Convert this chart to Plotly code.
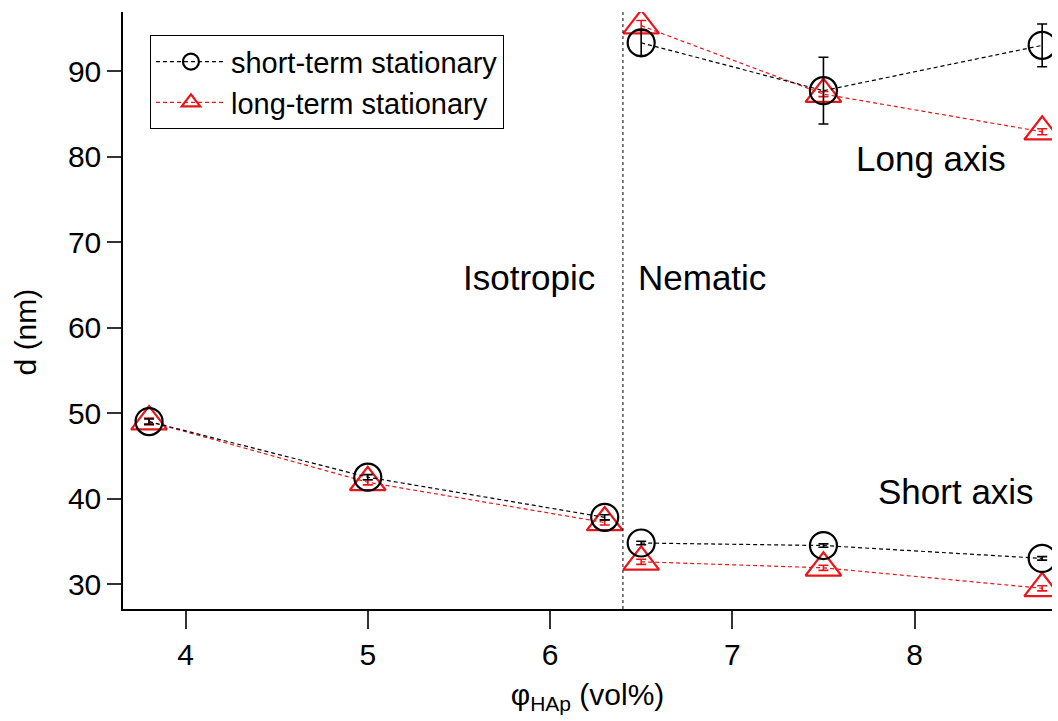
import plotly.graph_objects as go

# Volume fraction of HAp (vol%)
phi_iso = [3.8, 5.0, 6.3]
phi_nem = [6.5, 7.5, 8.7]

# short-term stationary: diameter (nm) and error
st_iso = [49.0, 42.5, 37.8]
st_iso_err = [0.3, 0.3, 0.3]
st_short = [34.8, 34.5, 33.0]
st_short_err = [0.2, 0.2, 0.2]
st_long = [93.3, 87.7, 93.0]
st_long_err = [1.5, 3.9, 2.5]

# long-term stationary: diameter (nm) and error
lt_iso = [49.0, 41.9, 37.2]
lt_iso_err = [0.4, 0.3, 0.3]
lt_short = [32.6, 31.9, 29.5]
lt_short_err = [0.3, 0.3, 0.3]
lt_long = [95.3, 87.3, 82.9]
lt_long_err = [0.6, 0.3, 0.35]

phase_boundary = 6.4

FONT = "Liberation Sans, Arial, sans-serif"
BLACK = "#000000"
RED = "#e8161b"

fig = go.Figure()


def add_series(x, y, err, color, symbol, size, name, show, rank):
    fig.add_trace(go.Scatter(
        x=x, y=y, mode="lines+markers", name=name,
        legendgroup=name, showlegend=show, legendrank=rank,
        line=dict(color=color, width=1.2, dash="4px,3px"),
        marker=dict(symbol=symbol, size=size, color=color,
                    line=dict(color=color, width=2.2)),
        error_y=dict(type="data", array=err, visible=True,
                     color=color, thickness=1.6, width=5),
    ))


# red first so the black circles sit on top
for ys, es, show in [(lt_iso, lt_iso_err, True), (lt_short, lt_short_err, False),
                     (lt_long, lt_long_err, False)]:
    xs = phi_iso if ys is lt_iso else phi_nem
    add_series(xs, ys, es, RED, "triangle-up-open", 31,
               "long-term stationary", show, 2)

for ys, es, show in [(st_iso, st_iso_err, True), (st_short, st_short_err, False),
                     (st_long, st_long_err, False)]:
    xs = phi_iso if ys is st_iso else phi_nem
    add_series(xs, ys, es, BLACK, "circle-open", 27,
               "short-term stationary", show, 1)

# isotropic / nematic boundary
fig.add_shape(type="line", x0=phase_boundary, x1=phase_boundary,
              xref="x", yref="paper", y0=0, y1=1,
              line=dict(color=BLACK, width=1, dash="dot"))

labels = [("Isotropic", 5.884, 65.8), ("Nematic", 6.833, 65.8),
          ("Long axis", 8.09, 79.8), ("Short axis", 8.23, 40.8)]
for text, lx, ly in labels:
    fig.add_annotation(x=lx, y=ly, text=text, showarrow=False,
                       font=dict(family=FONT, size=35, color=BLACK))

# y-axis title, placed close to the page edge
fig.add_annotation(x=-0.1055, y=0.465, xref="paper", yref="paper",
                   text="d (nm)", textangle=-90, showarrow=False,
                   xanchor="center", yanchor="middle",
                   font=dict(family=FONT, size=30, color=BLACK))

fig.update_layout(
    width=1058, height=721,
    margin=dict(l=123, r=6, t=12, b=112),
    paper_bgcolor="white", plot_bgcolor="white",
    font=dict(family=FONT, size=30, color=BLACK),
    showlegend=True,
    legend=dict(x=0.029, y=0.961, xanchor="left", yanchor="top",
                bordercolor=BLACK, borderwidth=1, bgcolor="white",
                font=dict(family=FONT, size=29, color=BLACK),
                itemwidth=70, tracegroupgap=0),
    xaxis=dict(range=[3.657, 8.754], tickvals=[4, 5, 6, 7, 8],
               showgrid=False, zeroline=False,
               showline=True, linecolor=BLACK, linewidth=1.5,
               ticks="outside", ticklen=18, tickwidth=1.5, tickcolor="#333333",
               tickfont=dict(family=FONT, size=30),
               title=dict(text="φ<sub>HAp</sub> (vol%)",
                          font=dict(family=FONT, size=30), standoff=14)),
    yaxis=dict(range=[27.08, 96.9], tickvals=[30, 40, 50, 60, 70, 80, 90],
               showgrid=False, zeroline=False,
               showline=True, linecolor=BLACK, linewidth=1.5,
               ticks="outside", ticklen=14, tickwidth=1.5, tickcolor="#333333",
               tickfont=dict(family=FONT, size=30)),
)

fig.write_html("out.html")
